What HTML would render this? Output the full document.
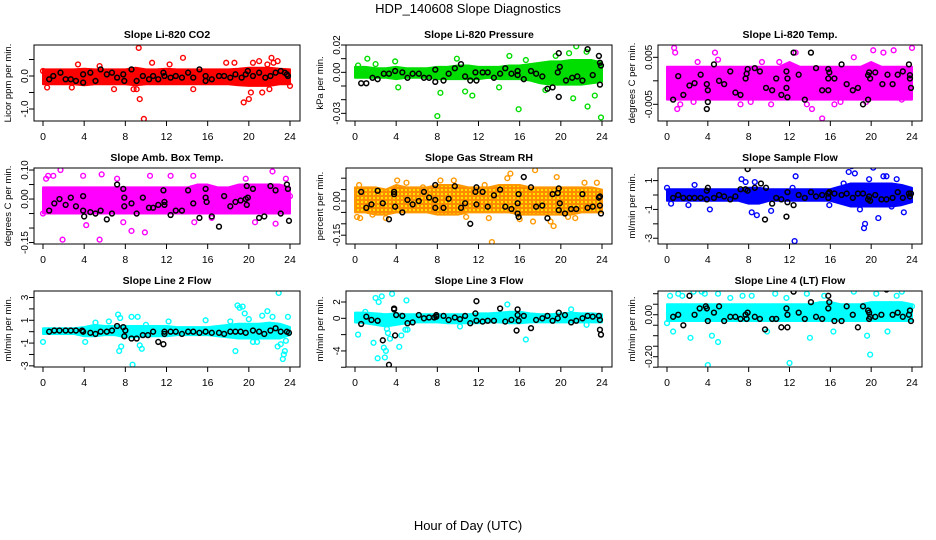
<!DOCTYPE html>
<html><head><meta charset="utf-8"><style>
html,body{margin:0;padding:0;background:#fff;}
svg{display:block;font-family:"Liberation Sans",sans-serif;}
</style></head><body>
<svg id="chart" width="936" height="540" viewBox="0 0 936 540" xmlns="http://www.w3.org/2000/svg">
<defs>
<pattern id="rhpat" width="4" height="4" patternUnits="userSpaceOnUse">
<rect width="4" height="4" fill="#ff8c00"/><circle cx="2" cy="2" r="1" fill="#ffff00"/>
</pattern>
</defs>
<text x="468" y="13" font-size="13" text-anchor="middle">HDP_140608  Slope Diagnostics</text>
<text x="468" y="530" font-size="13" text-anchor="middle">Hour of Day (UTC)</text>
</svg>
<script>
// ---- data (hours 0..24 band edges, outliers and black points) ----
const xTicks = [0,4,8,12,16,20,24];
const bandHours = [0,1,2,3,4,5,6,7,8,9,10,11,12,13,14,15,16,17,18,19,20,21,22,23,24];

const p1Hi = [0.2,0.2,0.2,0.2,0.22,0.2,0.2,0.2,0.2,0.25,0.2,0.2,0.22,0.2,0.2,0.2,0.2,0.2,0.2,0.22,0.25,0.25,0.25,0.22,0.2];
const p1Lo = [-0.25,-0.25,-0.25,-0.25,-0.28,-0.25,-0.25,-0.25,-0.25,-0.28,-0.25,-0.25,-0.25,-0.25,-0.25,-0.25,-0.25,-0.25,-0.25,-0.28,-0.3,-0.3,-0.3,-0.25,-0.25];
const p1Out = [[9.3,0.85],[9.4,-0.7],[9.8,-1.3],[3.4,0.35],[5.5,0.3],[10.6,0.4],[12.3,0.35],[13.6,0.55],[14.6,-0.4],[17.8,0.4],[18.6,0.4],[19.5,-0.8],[20,-0.7],[20.2,-0.5],[21,0.45],[21.3,-0.5],[21.8,0.35],[22,-0.4],[22.2,0.55],[22.4,0.4],[22.8,0.45],[24,-0.3],[6.9,-0.4],[8.8,-0.4],[9.1,-0.4],[20.4,0.4],[2.8,-0.35],[0,0.15],[0.4,-0.35]];
const p1Blk = [[0.6,-0.1],[1,0],[1.7,0.1],[2.2,-0.1],[2.7,-0.1],[3.2,-0.15],[3.9,0.05],[3.9,-0.2],[4.6,0.1],[5.1,-0.15],[5.6,0.2],[6.2,0.05],[6.7,0.1],[7.2,-0.05],[7.8,0.05],[7.9,-0.15],[8.6,0.2],[9.1,-0.15],[9.7,0],[10.3,-0.1],[10.7,0],[11.2,-0.1],[11.7,0.1],[11.8,0],[12.4,-0.05],[12.9,0],[13.5,-0.05],[14.1,0.1],[14.6,-0.05],[15.2,0.2],[15.8,-0.15],[15.8,0],[16.4,-0.1],[17.1,0],[17.6,0],[18.2,-0.05],[18.7,0.05],[19.3,-0.05],[19.7,0.05],[19.9,0.15],[20.4,0],[21,0.1],[21.6,-0.05],[22.1,0],[22.6,0.1],[23.1,0.15],[23.5,0.1],[23.7,0.05],[23.8,0]];

const p2Hi = [0.004,0.004,0.003,0.003,0.004,0.003,0.003,0.003,0.004,0.004,0.005,0.005,0.004,0.004,0.004,0.005,0.005,0.006,0.007,0.008,0.008,0.009,0.009,0.009,0.007];
const p2Lo = [-0.004,-0.004,-0.004,-0.004,-0.005,-0.004,-0.004,-0.004,-0.005,-0.005,-0.005,-0.005,-0.005,-0.004,-0.005,-0.005,-0.005,-0.006,-0.008,-0.009,-0.009,-0.009,-0.009,-0.008,-0.007];
const p2Out = [[8,-0.032],[15.9,-0.027],[23.9,-0.033],[22.6,-0.025],[21.2,-0.019],[23.3,-0.017],[11.4,-0.017],[10.7,-0.014],[8.3,-0.015],[1.2,0.01],[2,0.006],[3.9,0.008],[9.9,0.01],[15,0.012],[21.5,0.019],[20.8,0.014],[22.5,0.015],[16.6,0.009],[19.5,0.012],[4.2,-0.011],[14,-0.011],[18.5,-0.013],[0.3,0.005]];
const p2Blk = [[0.6,-0.008],[1.1,-0.008],[1.7,-0.004],[2.2,-0.005],[2.8,-0.001],[3.3,-0.001],[3.9,0.001],[4.6,0],[5.1,-0.004],[5.6,-0.001],[6.2,-0.001],[6.7,-0.004],[7.2,-0.004],[7.8,0.002],[7.8,-0.007],[8.6,-0.006],[9.1,-0.001],[9.7,0.003],[10.3,0.006],[10.7,-0.003],[11.2,-0.006],[11.7,0],[11.8,-0.006],[12.4,0],[12.9,0],[13.5,-0.004],[14.1,-0.001],[14.6,0.003],[15.2,-0.001],[15.8,0.001],[15.8,-0.002],[16.4,-0.005],[17.1,0.001],[17.6,-0.001],[18.2,-0.003],[18.7,-0.012],[19.2,-0.011],[19.7,0],[19.8,0.014],[19.8,-0.018],[19.9,0.004],[20.5,-0.006],[21.1,-0.004],[21.6,-0.003],[22.1,-0.006],[22.6,0.017],[23.1,-0.002],[23.7,0.012],[23.8,0.007],[23.9,0.005],[23.8,-0.009]];

const p3Hi = [0.003,0.003,0.003,0.003,0.003,0.003,0.003,0.003,0.003,0.003,0.003,0.003,0.004,0.003,0.003,0.003,0.003,0.003,0.003,0.003,0.004,0.003,0.003,0.003,0.003];
const p3Lo = [-0.004,-0.004,-0.004,-0.004,-0.004,-0.004,-0.004,-0.004,-0.004,-0.004,-0.004,-0.004,-0.004,-0.004,-0.004,-0.004,-0.004,-0.004,-0.004,-0.004,-0.004,-0.004,-0.004,-0.004,-0.004];
const p3Out = [[0.7,0.007],[0.8,0.006],[1,-0.006],[1.3,-0.005],[4.7,0.006],[7.2,-0.005],[8.2,-0.0045],[10.2,-0.005],[12.6,0.006],[14.2,-0.006],[15.2,-0.008],[16.4,-0.005],[18.3,0.005],[20.2,0.0065],[21.2,0.006],[22.2,0.0065],[24,0.007],[2.6,-0.0045],[3,0.004],[5,0.0045],[9.3,0.004],[11,0.004],[13.7,-0.005],[17,-0.0045],[19.5,-0.0045],[23,-0.004]];
const p3Blk = [[0.6,-0.004],[1.1,0.001],[1.6,-0.003],[2.2,-0.001],[2.7,-0.0005],[3.3,0.0013],[3.9,-0.0007],[3.9,-0.006],[4,-0.002],[4,-0.0045],[4.6,0.0035],[5.1,0],[5.6,-0.0007],[6.2,0.002],[6.7,-0.0025],[7.2,-0.003],[7.7,0.0005],[7.8,0.0015],[7.9,0.0025],[8.6,0.0027],[9.1,0.002],[9.7,-0.0015],[10.3,-0.002],[10.7,0.0005],[11.2,-0.003],[11.7,-0.0015],[11.7,0.002],[11.8,-0.0035],[11.8,0.0005],[12.4,0.006],[12.9,0.0013],[13.5,-0.004],[14.1,0.006],[14.6,0.0027],[15.2,-0.002],[15.8,-0.002],[15.8,0.0005],[15.8,0.0025],[15.9,0.0018],[16.4,0.0005],[17.1,0.0035],[17.6,-0.0007],[18.2,-0.002],[18.7,-0.0015],[19.2,-0.005],[19.7,-0.004],[19.7,0.0012],[19.8,0.0018],[19.9,0.0005],[20.4,0.0018],[21.1,-0.0007],[21.6,0.0013],[22.1,-0.0007],[22.6,0.0013],[23.1,0.002],[23.7,0.0035],[23.8,0.0012],[23.8,0.0005],[23.9,-0.0015]];

const p4Hi = [0.04,0.04,0.04,0.04,0.04,0.04,0.04,0.04,0.04,0.04,0.04,0.04,0.04,0.04,0.04,0.05,0.05,0.04,0.04,0.05,0.05,0.05,0.05,0.05,0.04];
const p4Lo = [-0.05,-0.05,-0.05,-0.05,-0.05,-0.05,-0.05,-0.05,-0.05,-0.05,-0.05,-0.05,-0.05,-0.05,-0.05,-0.05,-0.05,-0.05,-0.05,-0.05,-0.05,-0.05,-0.05,-0.05,-0.05];
const p4Out = [[0.3,0.07],[0.5,0.08],[1,0.08],[1.7,0.1],[1.9,-0.14],[3.9,0.08],[4.2,-0.09],[5.5,-0.14],[5.7,0.085],[7.2,0.07],[7.8,-0.08],[8.6,-0.11],[9.9,-0.115],[10.4,0.08],[12.4,0.08],[14.6,0.08],[14.7,-0.08],[16.4,-0.065],[19.7,0.07],[20.6,-0.08],[22.3,0.095],[22.6,-0.085],[23.6,0.07],[24,0.01],[0,-0.05]];
const p4Blk = [[0.6,-0.04],[1.1,-0.015],[1.6,0],[2.2,-0.02],[2.7,0.005],[3.2,-0.025],[3.9,0.01],[3.9,-0.04],[4,-0.06],[4.6,-0.045],[5.1,-0.05],[5.6,-0.04],[6.2,-0.07],[6.7,-0.05],[7.2,0.05],[7.8,0.035],[7.9,0.005],[7.9,-0.025],[8.6,-0.015],[9.1,-0.05],[9.7,0.005],[10.3,-0.03],[10.7,-0.03],[11.2,-0.02],[11.7,0.03],[11.8,-0.01],[11.8,-0.02],[12.4,-0.055],[12.9,-0.04],[13.5,-0.04],[14.1,0.03],[14.6,-0.015],[15.2,-0.065],[15.8,0.035],[15.8,0.005],[15.9,-0.01],[16.4,-0.06],[17.1,-0.095],[17.6,0.01],[18.2,-0.025],[18.7,-0.01],[19.2,-0.005],[19.7,0],[19.8,0.045],[19.8,-0.02],[19.9,0.005],[20.4,0.035],[21,-0.065],[21.5,-0.06],[22.1,0.045],[22.6,0.03],[23.1,-0.05],[23.7,0.05],[23.8,0.035],[23.9,-0.075]];

const p5Hi = [0.06,0.06,0.06,0.05,0.07,0.06,0.06,0.06,0.07,0.07,0.07,0.06,0.06,0.06,0.07,0.07,0.07,0.06,0.06,0.06,0.06,0.06,0.06,0.06,0.05];
const p5Lo = [-0.05,-0.05,-0.06,-0.06,-0.05,-0.05,-0.05,-0.05,-0.06,-0.06,-0.06,-0.05,-0.05,-0.05,-0.05,-0.05,-0.06,-0.06,-0.06,-0.06,-0.06,-0.06,-0.05,-0.05,-0.05];
const p5Out = [[0.2,-0.07],[0.5,-0.075],[1.7,-0.06],[3,-0.075],[4.1,0.09],[5,0.08],[8.3,0.09],[9.6,0.09],[10.8,-0.07],[13,-0.075],[13.3,-0.18],[14.8,0.1],[15.1,0.12],[16,-0.08],[17.3,-0.09],[17.5,0.135],[19,-0.09],[19.3,-0.11],[19.6,0.105],[20.7,-0.07],[21.4,-0.075],[22.3,0.08],[23.5,0.08],[0.4,0.07],[12.6,0.07],[6.6,0.06]];
const p5Blk = [[0.6,0.04],[1.1,-0.03],[1.6,-0.015],[2.2,0.045],[2.7,-0.01],[3.3,-0.08],[3.8,0.04],[3.8,0.03],[3.9,-0.025],[4.6,-0.05],[5.1,0.005],[5.6,-0.015],[6.2,0],[6.7,0.04],[7.2,0.015],[7.8,0.07],[7.8,-0.03],[7.8,0.005],[8.6,-0.03],[9.1,0.01],[9.7,0.065],[10.3,-0.03],[10.7,-0.01],[11.2,-0.1],[11.7,0.04],[11.8,0.06],[11.8,-0.015],[12.4,0.04],[12.9,-0.025],[13.5,0.025],[14.1,0.05],[14.6,-0.025],[15.2,-0.035],[15.8,-0.055],[15.8,-0.01],[15.9,0.03],[15.9,-0.07],[16.4,0.105],[17.1,0.06],[17.6,-0.025],[18.2,-0.02],[18.7,-0.075],[19.2,0.03],[19.7,0.035],[19.8,0.055],[19.8,-0.04],[19.9,-0.01],[20.4,-0.055],[21,-0.035],[21.5,-0.035],[22.1,0.03],[22.6,-0.03],[23.1,-0.025],[23.7,0.015],[23.8,0.02],[23.8,-0.02],[23.9,-0.055]];

const p6Hi = [0.4,0.4,0.4,0.4,0.4,0.4,0.4,0.4,0.5,0.5,0.4,0.4,0.4,0.4,0.4,0.4,0.4,0.6,0.8,0.8,0.8,0.8,0.8,0.7,0.5];
const p6Lo = [-0.4,-0.4,-0.4,-0.4,-0.4,-0.4,-0.4,-0.4,-0.6,-0.6,-0.4,-0.4,-0.4,-0.4,-0.4,-0.4,-0.4,-0.6,-0.8,-0.8,-0.8,-0.8,-0.8,-0.7,-0.5];
const p6Out = [[0,0.5],[0.4,-0.6],[2.1,-0.7],[2.7,0.7],[4.2,-1],[7.3,1.1],[7.7,0.9],[8.3,-1.2],[8.6,0.9],[8.8,-1.4],[10.2,-1.1],[12.3,0.5],[12.6,1.3],[12.5,-3.2],[15.9,-0.7],[17.3,0.8],[17.8,1.6],[18.1,2],[18.4,1.5],[19.3,-2.3],[19.4,-2],[19.8,1.1],[20.2,1.9],[20.7,-1.6],[21.2,1.3],[21.5,1.3],[22.5,1.1],[23.2,-1.2],[18.9,-1],[20,-0.5],[22,-0.8]];
const p6Blk = [[0.6,-0.2],[1.1,0],[1.6,-0.2],[2.2,-0.2],[2.7,-0.2],[3.3,-0.2],[3.9,-0.3],[3.9,0.3],[4,0.5],[4.6,-0.2],[5.1,0],[5.6,-0.1],[6.2,-0.3],[6.7,-0.1],[7.2,0.4],[7.7,0.4],[7.9,1.8],[7.9,0.3],[8.6,0.5],[9.2,0.8],[9.6,-1.7],[9.7,0.5],[10.3,-0.6],[10.7,-0.2],[11.2,-0.3],[11.7,-1.5],[11.8,0.2],[11.8,-0.5],[12.4,-0.7],[12.9,0],[13.5,-0.2],[14.1,0.2],[14.6,-0.1],[15.2,0],[15.8,-0.2],[15.8,0.1],[15.9,0.2],[16.4,0.1],[17.1,0],[17.6,0.1],[18.2,-0.2],[18.7,0.1],[19.2,0.1],[19.7,-0.3],[19.8,-0.1],[19.9,-0.4],[20.4,0],[21,-0.3],[21.5,-0.3],[22.1,-0.2],[22.6,0.2],[23.1,-0.2],[23.7,0.1],[23.8,-0.1],[23.9,0.1]];

const p7Hi = [0.3,0.3,0.3,0.3,0.4,0.6,0.5,0.5,0.5,0.5,0.5,0.5,0.5,0.4,0.4,0.4,0.4,0.5,0.6,0.7,0.7,0.7,0.8,0.7,0.4];
const p7Lo = [-0.2,-0.2,-0.2,-0.2,-0.4,-0.4,-0.3,-0.3,-0.5,-0.5,-0.4,-0.4,-0.4,-0.3,-0.3,-0.3,-0.3,-0.4,-0.5,-0.6,-0.6,-0.6,-0.6,-0.6,-0.3];
const p7Out = [[0,-0.9],[4.1,-0.9],[5.1,0.8],[6.4,0.9],[7.3,1.5],[7.5,1.2],[7.4,-1.7],[7.6,-1.3],[8.6,1.3],[8.7,-2.9],[9.2,1.3],[9.4,-1.2],[9.6,-1.5],[10,0.6],[12.2,0.9],[15.8,1],[18.2,0.9],[18.7,-1.7],[18.9,2.3],[19.1,2.1],[19.4,2.2],[19.6,1.6],[20,1.1],[21.3,1.4],[21.8,1.8],[22.3,1.3],[22.9,3.4],[22.8,-1.3],[23.1,-1.1],[23.3,-2.4],[23.5,-1.7],[23.4,-2],[23.8,1.3],[23.6,-0.8],[20.4,-0.9],[20.8,-0.9]];
const p7Blk = [[0.6,0],[1.1,0.1],[1.6,0.1],[2.2,0.1],[2.7,0.1],[3.2,0.1],[3.8,0.1],[3.9,0],[4.6,-0.1],[5.1,-0.2],[5.6,0],[6.2,0],[6.7,0.1],[7.2,0.5],[7.8,0.4],[7.9,-0.4],[8,0.1],[8.6,-0.6],[9.1,-0.6],[9.7,-0.3],[10.2,-0.3],[10.7,0],[11.2,-0.9],[11.7,-1.1],[11.8,0],[11.8,-0.2],[12.4,0],[12.9,0],[13.5,-0.2],[14.1,0],[14.6,0],[15.2,-0.1],[15.8,0],[16.4,-0.1],[17.1,-0.1],[17.6,-0.2],[18.2,0],[18.7,0],[19.2,0],[19.7,-0.1],[20.4,0.1],[21,0],[21.5,-0.2],[22.1,0.1],[22.6,0.3],[23.1,0],[23.7,0],[23.9,-0.1]];

const p8Hi = [0.7,0.7,0.6,0.5,0.6,0.5,0.5,0.5,0.5,0.5,0.5,0.5,0.6,0.6,0.7,0.8,0.8,0.6,0.5,0.5,0.6,0.7,0.6,0.6,0.5];
const p8Lo = [-0.5,-0.6,-0.8,-1,-0.8,-0.6,-0.5,-0.5,-0.5,-0.6,-0.6,-0.6,-0.6,-0.5,-0.5,-0.6,-0.6,-0.5,-0.5,-0.5,-0.5,-0.5,-0.5,-0.5,-0.5];
const p8Out = [[0.3,-2],[1.8,-3],[2,2.5],[2.3,2],[2.6,2.7],[2.8,-3.6],[3,-4],[2.2,-4.9],[2.9,-4.8],[3.6,3],[3.1,-1.3],[3.2,-1.8],[3.4,-2.5],[4.3,-3.5],[4.5,-2.1],[5,2.2],[4.9,-1.4],[5.1,-1.4],[14.8,1.7],[16.6,-2.6],[21,1.1],[22.5,-0.8],[10.2,-1],[1,0.8]];
const p8Blk = [[0.6,-0.7],[1.1,0.2],[1.6,-0.2],[2.2,-0.3],[2.7,-2.7],[3.3,-5.7],[3.8,1.1],[3.8,1.2],[3.9,-2.1],[4,0.4],[4.6,0.3],[5.1,-0.6],[5.6,-0.5],[6.2,0.4],[6.7,0],[7.2,0.1],[7.7,0.1],[7.9,0.2],[7.9,0.4],[8.6,0.3],[9.1,-0.2],[9.7,0.1],[10.2,-0.1],[10.7,0.3],[11.2,-0.6],[11.7,0.6],[11.8,-0.3],[11.8,2.1],[12.4,-0.4],[12.9,-0.3],[13.5,-0.3],[14.1,1.2],[14.6,-0.4],[15.2,-0.2],[15.7,-1.5],[15.8,1.1],[15.8,0.4],[15.9,-0.3],[16.4,0.3],[17.1,-1.2],[17.6,-0.2],[18.2,0],[18.7,0.3],[19.2,-0.3],[19.7,0],[19.8,0.7],[20.4,0.4],[21,-0.5],[21.5,-0.3],[22.1,0],[22.6,0.3],[23.1,0.2],[23.7,0.3],[23.8,-1.4],[23.8,-0.2],[23.9,-2]];

const p9Hi = [0.05,0.05,0.05,0.05,0.05,0.05,0.05,0.05,0.05,0.05,0.05,0.05,0.05,0.05,0.05,0.06,0.06,0.05,0.05,0.05,0.06,0.06,0.06,0.06,0.05];
const p9Lo = [-0.03,-0.03,-0.03,-0.03,-0.03,-0.03,-0.03,-0.03,-0.03,-0.03,-0.03,-0.03,-0.03,-0.03,-0.03,-0.03,-0.03,-0.03,-0.03,-0.03,-0.03,-0.03,-0.03,-0.03,-0.03];
const p9Out = [[0.3,0.09],[1.1,0.1],[1.5,0.09],[2.6,0.11],[3.4,0.11],[3.7,0.1],[4,-0.24],[4.4,-0.1],[5,-0.13],[5,0.1],[6.2,0.08],[7.4,0.09],[8.3,0.09],[10.6,0.1],[11.7,0.08],[12,-0.23],[13.7,0.1],[14,-0.11],[15.4,0.09],[16.3,-0.08],[18.3,0.11],[19.9,-0.19],[19.6,-0.1],[20.5,0.1],[21.6,-0.08],[22.5,0.09],[23,0.11],[24,0.04],[0,-0.04],[2.3,-0.11],[0.6,-0.08],[9.8,-0.08]];
const p9Blk = [[0.6,-0.01],[1.1,0],[1.6,-0.05],[2.2,0.09],[2.7,0],[3.2,0.03],[3.8,0.04],[3.9,0.03],[4,-0.03],[4.6,0.01],[5.1,0.04],[5.6,-0.03],[6.2,-0.01],[6.7,-0.01],[7.2,-0.02],[7.7,0],[7.8,-0.02],[7.9,0.01],[8.6,-0.01],[9.1,-0.02],[9.6,-0.07],[10.3,-0.02],[10.7,-0.02],[11.2,-0.06],[11.7,0.03],[11.8,0],[11.8,-0.06],[12.4,0.11],[12.9,0.01],[13.5,-0.02],[14.1,0.06],[14.6,-0.01],[15.2,-0.02],[15.8,0.03],[15.8,0.09],[15.9,0.06],[16.4,-0.03],[17.1,-0.03],[17.6,0.04],[18.2,0],[18.7,-0.06],[19.2,0.04],[19.7,0.02],[19.8,0.01],[19.8,-0.02],[19.9,-0.01],[20.4,-0.01],[21,0],[21.5,0.12],[22.1,0],[22.6,0.01],[23.1,-0.01],[23.7,0],[23.8,0.02],[23.9,-0.03]];

const p1Ticks = [0.5,0,-0.5,-1]; const p1TickLabels = ["","0.0","","-1.0"];
const p2Ticks = [0.02,0.01,0,-0.01,-0.02,-0.03]; const p2TickLabels = ["0.02","","0.00","","","-0.03"];
const p3Ticks = [0.005,0,-0.005]; const p3TickLabels = ["0.005","","-0.005"];
const p4Ticks = [0.1,0.05,0,-0.05,-0.1,-0.15]; const p4TickLabels = ["0.10","","0.00","","","-0.15"];
const p5Ticks = [0.1,0.05,0,-0.05,-0.1,-0.15]; const p5TickLabels = ["","","0.00","","","-0.15"];
const p6Ticks = [1,0,-1,-2,-3]; const p6TickLabels = ["1","","-1","","-3"];
const p7Ticks = [3,2,1,0,-1,-2,-3]; const p7TickLabels = ["3","","1","","-1","","-3"];
const p8Ticks = [2,0,-2,-4,-6]; const p8TickLabels = ["2","0","","-4",""];
const p9Ticks = [0.1,0.05,0,-0.05,-0.1,-0.15,-0.2,-0.25]; const p9TickLabels = ["","","0.00","","","","-0.20",""];

const panels = [
 {id:'co2',title:'Slope Li-820 CO2',ylab:'Licor ppm per min.',col:'#ff0000',fill:'#ff0000',dom:[-1.364,0.939],hi:p1Hi,lo:p1Lo,out:p1Out,blk:p1Blk,ticks:p1Ticks,tl:p1TickLabels},
 {id:'pressure',title:'Slope Li-820 Pressure',ylab:'kPa per min.',col:'#00dd00',fill:'#00dd00',dom:[-0.0356,0.02],hi:p2Hi,lo:p2Lo,out:p2Out,blk:p2Blk,ticks:p2Ticks,tl:p2TickLabels},
 {id:'licor-temp',title:'Slope Li-820 Temp.',ylab:'degrees C per min.',col:'#ff00ff',fill:'#ff00ff',dom:[-0.00855,0.00762],hi:p3Hi,lo:p3Lo,out:p3Out,blk:p3Blk,ticks:p3Ticks,tl:p3TickLabels},
 {id:'amb-box-temp',title:'Slope Amb. Box Temp.',ylab:'degrees C per min.',col:'#ff00ff',fill:'#ff00ff',dom:[-0.155,0.107],hi:p4Hi,lo:p4Lo,out:p4Out,blk:p4Blk,ticks:p4Ticks,tl:p4TickLabels},
 {id:'gas-rh',title:'Slope Gas Stream RH',ylab:'percent per min.',col:'#ff9900',fill:'url(#rhpat)',dom:[-0.1886,0.1447],hi:p5Hi,lo:p5Lo,out:p5Out,blk:p5Blk,ticks:p5Ticks,tl:p5TickLabels},
 {id:'sample-flow',title:'Slope Sample Flow',ylab:'ml/min per min.',col:'#0000ff',fill:'#0000ff',dom:[-3.4,1.875],hi:p6Hi,lo:p6Lo,out:p6Out,blk:p6Blk,ticks:p6Ticks,tl:p6TickLabels},
 {id:'line2-flow',title:'Slope Line 2 Flow',ylab:'ml/min per min.',col:'#00ffff',fill:'#00ffff',dom:[-3.1,3.57],hi:p7Hi,lo:p7Lo,out:p7Out,blk:p7Blk,ticks:p7Ticks,tl:p7TickLabels},
 {id:'line3-flow',title:'Slope Line 3 Flow',ylab:'ml/min per min.',col:'#00ffff',fill:'#00ffff',dom:[-5.97,3.35],hi:p8Hi,lo:p8Lo,out:p8Out,blk:p8Blk,ticks:p8Ticks,tl:p8TickLabels},
 {id:'line4-flow',title:'Slope Line 4 (LT) Flow',ylab:'ml/min per min.',col:'#00ffff',fill:'#00ffff',dom:[-0.249,0.113],hi:p9Hi,lo:p9Lo,out:p9Out,blk:p9Blk,ticks:p9Ticks,tl:p9TickLabels}
];

const NS='http://www.w3.org/2000/svg';
const svg=document.getElementById('chart');
function mk(tag,attrs,parent){const e=document.createElementNS(NS,tag);for(const k in attrs)e.setAttribute(k,attrs[k]);(parent||svg).appendChild(e);return e;}
const colLeft=[34,346,658], colW=[266,266,264], rowTop=[45,168,291], H=76;

panels.forEach((p,i)=>{
  const L=colLeft[i%3], W=colW[i%3], T=rowTop[Math.floor(i/3)], B=T+H;
  const xs=h=>L+9+h*(W-19)/24;
  const ys=v=>B-(v-p.dom[0])/(p.dom[1]-p.dom[0])*H;
  const g=mk('g',{});
  
  
  const clipId='clip'+i;
  const cp=mk('clipPath',{id:clipId},g); mk('rect',{x:L,y:T,width:W,height:H},cp);
  const title=mk('text',{x:L+W/2,y:T-7,'font-size':10.5,'font-weight':'bold','text-anchor':'middle'},g);
  title.textContent=p.title;
  
  
  const yl=mk('text',{x:L-23,y:T+H/2,'font-size':9.5,'text-anchor':'middle',transform:`rotate(-90 ${L-23} ${T+H/2})`},g);
  yl.textContent=p.ylab;
  
  
  const marks=mk('g',{'clip-path':`url(#${clipId})`},g);
  let d='';
  bandHours.forEach((h,k)=>{d+=(k?'L':'M')+xs(h)+','+ys(p.hi[k]);});
  for(let k=bandHours.length-1;k>=0;k--) d+='L'+xs(bandHours[k])+','+ys(p.lo[k]);
  const band=mk('path',{d:d+'Z',fill:p.fill,stroke:p.col,'stroke-width':2,'stroke-linejoin':'round'},marks);
  
  
  p.out.forEach(pt=>{
    const c=mk('circle',{cx:xs(pt[0]),cy:ys(pt[1]),r:2.4,fill:'none',stroke:p.col,'stroke-width':1.4},marks);
    
    
  });
  p.blk.forEach(pt=>{
    const c=mk('circle',{cx:xs(pt[0]),cy:ys(pt[1]),r:2.4,fill:'none',stroke:'#000','stroke-width':1.5},marks);
    
    
  });
  const box=mk('rect',{x:L,y:T,width:W,height:H,fill:'none',stroke:'#000','stroke-width':1},g);
  
  
  xTicks.forEach(t=>{
    mk('line',{x1:xs(t),x2:xs(t),y1:B,y2:B+5,stroke:'#000'},g);
    const tx=mk('text',{x:xs(t),y:B+19,'font-size':10.5,'text-anchor':'middle'},g);
    tx.textContent=t;
    
    
  });
  p.ticks.forEach((t,k)=>{
    const y=ys(t);
    mk('line',{x1:L-5,x2:L,y1:y,y2:y,stroke:'#000'},g);
    if(p.tl[k]){
      const tx=mk('text',{x:L-6,y:y,'font-size':10,'text-anchor':'middle',transform:`rotate(-90 ${L-6} ${y})`},g);
      tx.textContent=p.tl[k];
      
      
    }
  });
});
</script>
</body></html>
